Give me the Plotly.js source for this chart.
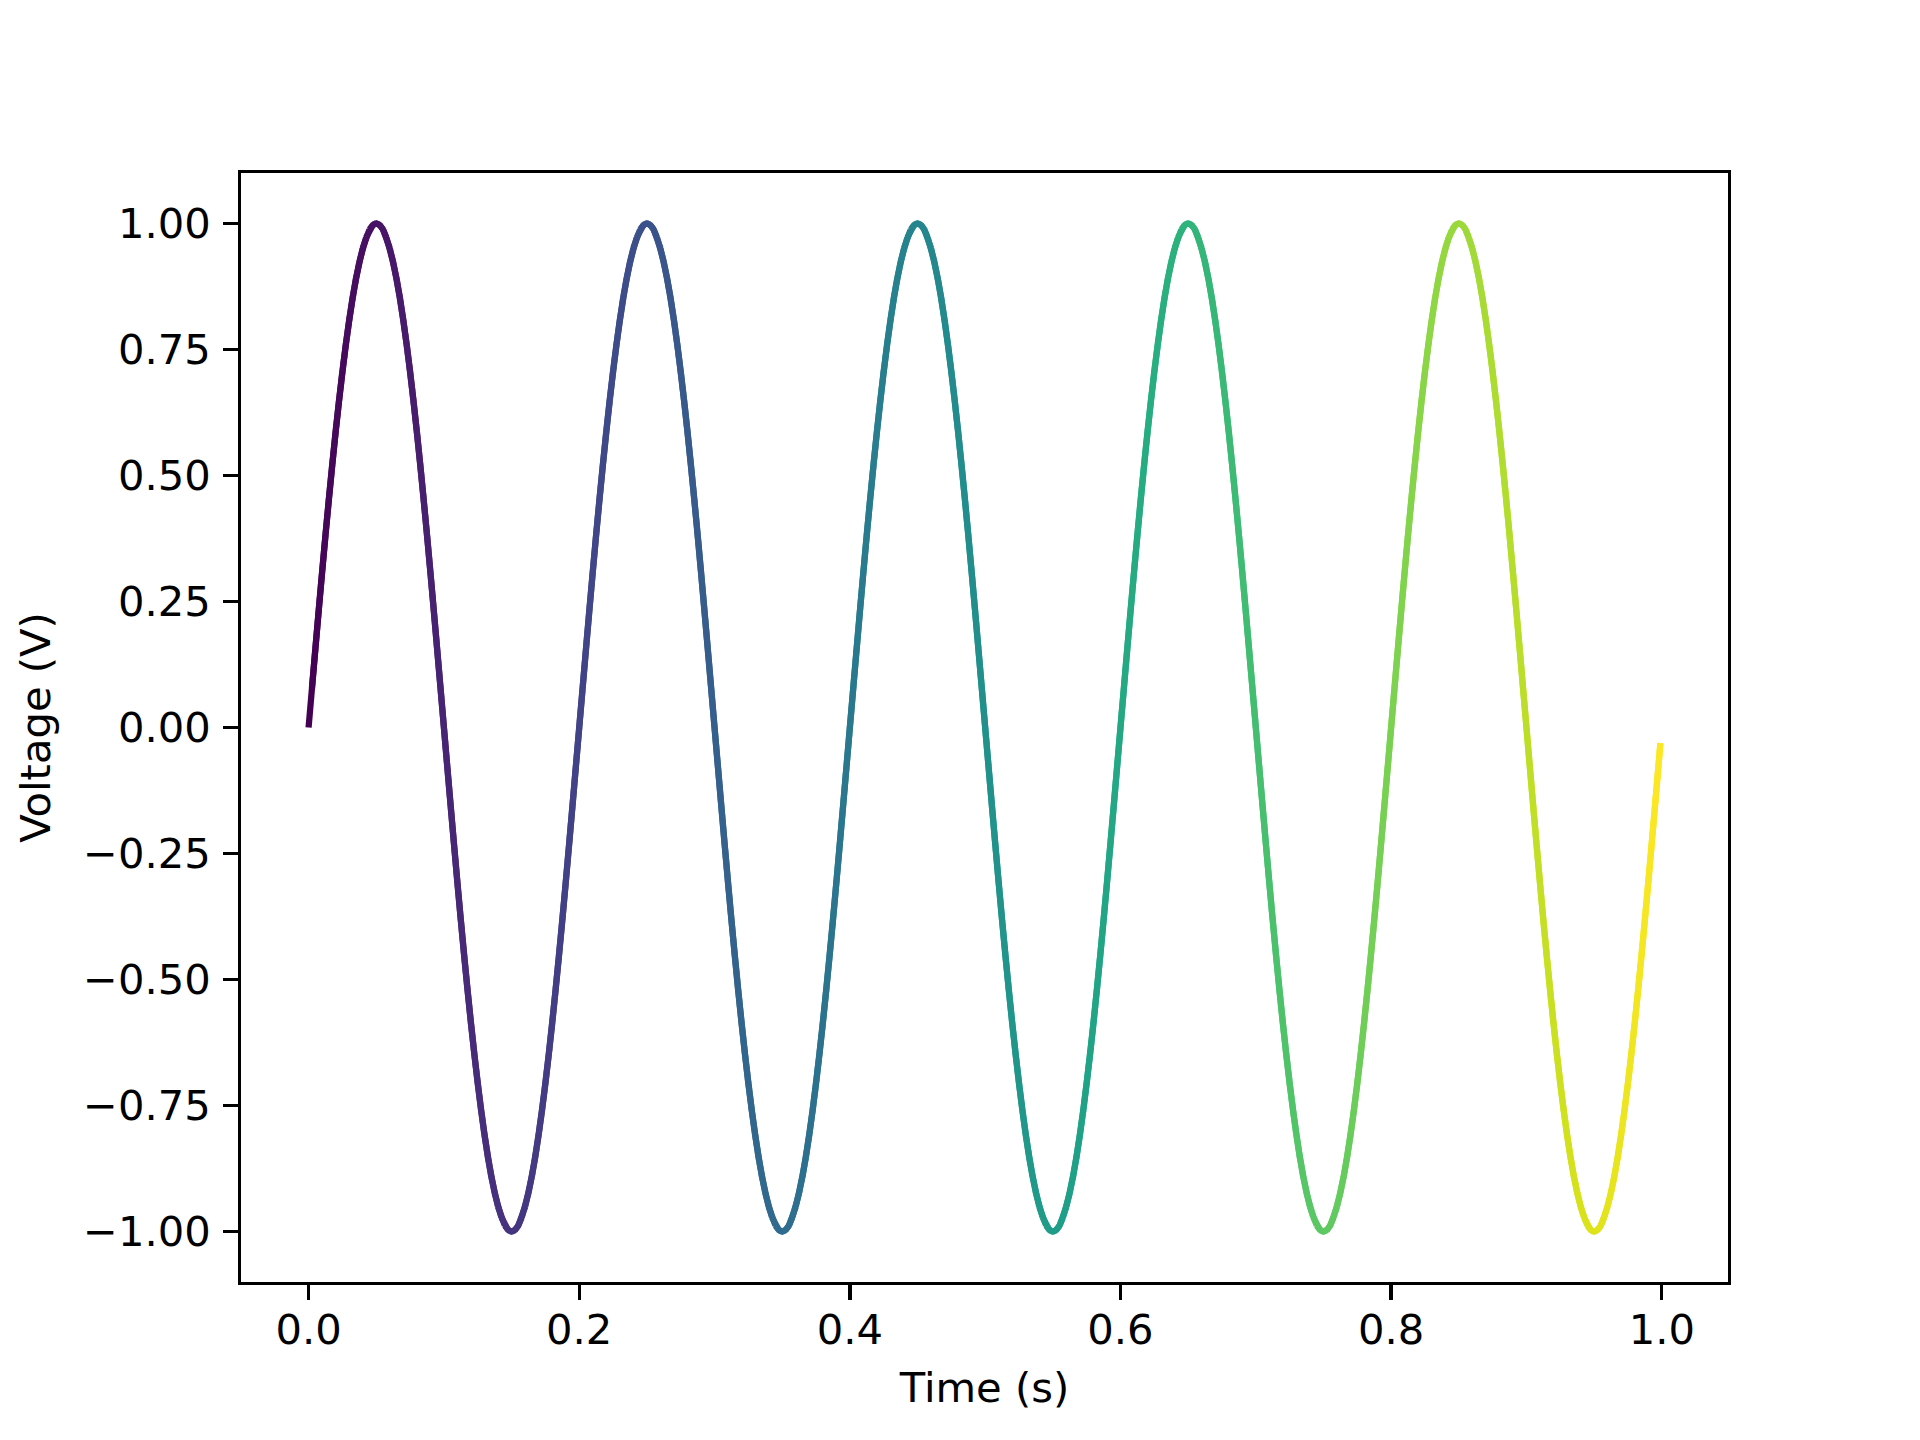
<!DOCTYPE html>
<html>
<head>
<meta charset="utf-8">
<script src="https://cdn.plot.ly/plotly-3.0.1.min.js"></script>
<style>
  html, body { margin: 0; padding: 0; background: #ffffff; }
  #chart { width: 1920px; height: 1440px; }
</style>
</head>
<body>
<div id="chart"></div>
<script>
// Sampled times (s), read along the horizontal axis
const timeSeconds = [
  0.0000, 0.0025, 0.0050, 0.0075, 0.0100, 0.0125, 0.0150, 0.0175, 0.0200, 0.0225, 0.0250, 0.0275, 0.0300, 0.0325, 0.0350, 0.0375, 0.0400, 0.0425, 0.0450, 0.0475,
  0.0500, 0.0525, 0.0550, 0.0575, 0.0600, 0.0625, 0.0650, 0.0675, 0.0700, 0.0725, 0.0750, 0.0775, 0.0800, 0.0825, 0.0850, 0.0875, 0.0900, 0.0925, 0.0950, 0.0975,
  0.1000, 0.1025, 0.1050, 0.1075, 0.1100, 0.1125, 0.1150, 0.1175, 0.1200, 0.1225, 0.1250, 0.1275, 0.1300, 0.1325, 0.1350, 0.1375, 0.1400, 0.1425, 0.1450, 0.1475,
  0.1500, 0.1525, 0.1550, 0.1575, 0.1600, 0.1625, 0.1650, 0.1675, 0.1700, 0.1725, 0.1750, 0.1775, 0.1800, 0.1825, 0.1850, 0.1875, 0.1900, 0.1925, 0.1950, 0.1975,
  0.2000, 0.2025, 0.2050, 0.2075, 0.2100, 0.2125, 0.2150, 0.2175, 0.2200, 0.2225, 0.2250, 0.2275, 0.2300, 0.2325, 0.2350, 0.2375, 0.2400, 0.2425, 0.2450, 0.2475,
  0.2500, 0.2525, 0.2550, 0.2575, 0.2600, 0.2625, 0.2650, 0.2675, 0.2700, 0.2725, 0.2750, 0.2775, 0.2800, 0.2825, 0.2850, 0.2875, 0.2900, 0.2925, 0.2950, 0.2975,
  0.3000, 0.3025, 0.3050, 0.3075, 0.3100, 0.3125, 0.3150, 0.3175, 0.3200, 0.3225, 0.3250, 0.3275, 0.3300, 0.3325, 0.3350, 0.3375, 0.3400, 0.3425, 0.3450, 0.3475,
  0.3500, 0.3525, 0.3550, 0.3575, 0.3600, 0.3625, 0.3650, 0.3675, 0.3700, 0.3725, 0.3750, 0.3775, 0.3800, 0.3825, 0.3850, 0.3875, 0.3900, 0.3925, 0.3950, 0.3975,
  0.4000, 0.4025, 0.4050, 0.4075, 0.4100, 0.4125, 0.4150, 0.4175, 0.4200, 0.4225, 0.4250, 0.4275, 0.4300, 0.4325, 0.4350, 0.4375, 0.4400, 0.4425, 0.4450, 0.4475,
  0.4500, 0.4525, 0.4550, 0.4575, 0.4600, 0.4625, 0.4650, 0.4675, 0.4700, 0.4725, 0.4750, 0.4775, 0.4800, 0.4825, 0.4850, 0.4875, 0.4900, 0.4925, 0.4950, 0.4975,
  0.5000, 0.5025, 0.5050, 0.5075, 0.5100, 0.5125, 0.5150, 0.5175, 0.5200, 0.5225, 0.5250, 0.5275, 0.5300, 0.5325, 0.5350, 0.5375, 0.5400, 0.5425, 0.5450, 0.5475,
  0.5500, 0.5525, 0.5550, 0.5575, 0.5600, 0.5625, 0.5650, 0.5675, 0.5700, 0.5725, 0.5750, 0.5775, 0.5800, 0.5825, 0.5850, 0.5875, 0.5900, 0.5925, 0.5950, 0.5975,
  0.6000, 0.6025, 0.6050, 0.6075, 0.6100, 0.6125, 0.6150, 0.6175, 0.6200, 0.6225, 0.6250, 0.6275, 0.6300, 0.6325, 0.6350, 0.6375, 0.6400, 0.6425, 0.6450, 0.6475,
  0.6500, 0.6525, 0.6550, 0.6575, 0.6600, 0.6625, 0.6650, 0.6675, 0.6700, 0.6725, 0.6750, 0.6775, 0.6800, 0.6825, 0.6850, 0.6875, 0.6900, 0.6925, 0.6950, 0.6975,
  0.7000, 0.7025, 0.7050, 0.7075, 0.7100, 0.7125, 0.7150, 0.7175, 0.7200, 0.7225, 0.7250, 0.7275, 0.7300, 0.7325, 0.7350, 0.7375, 0.7400, 0.7425, 0.7450, 0.7475,
  0.7500, 0.7525, 0.7550, 0.7575, 0.7600, 0.7625, 0.7650, 0.7675, 0.7700, 0.7725, 0.7750, 0.7775, 0.7800, 0.7825, 0.7850, 0.7875, 0.7900, 0.7925, 0.7950, 0.7975,
  0.8000, 0.8025, 0.8050, 0.8075, 0.8100, 0.8125, 0.8150, 0.8175, 0.8200, 0.8225, 0.8250, 0.8275, 0.8300, 0.8325, 0.8350, 0.8375, 0.8400, 0.8425, 0.8450, 0.8475,
  0.8500, 0.8525, 0.8550, 0.8575, 0.8600, 0.8625, 0.8650, 0.8675, 0.8700, 0.8725, 0.8750, 0.8775, 0.8800, 0.8825, 0.8850, 0.8875, 0.8900, 0.8925, 0.8950, 0.8975,
  0.9000, 0.9025, 0.9050, 0.9075, 0.9100, 0.9125, 0.9150, 0.9175, 0.9200, 0.9225, 0.9250, 0.9275, 0.9300, 0.9325, 0.9350, 0.9375, 0.9400, 0.9425, 0.9450, 0.9475,
  0.9500, 0.9525, 0.9550, 0.9575, 0.9600, 0.9625, 0.9650, 0.9675, 0.9700, 0.9725, 0.9750, 0.9775, 0.9800, 0.9825, 0.9850, 0.9875, 0.9900, 0.9925, 0.9950, 0.9975,
  0.9990
];

// Voltage (V) read at each sampled time
const voltageVolts = [
  0.000, 0.078, 0.156, 0.233, 0.309, 0.383, 0.454, 0.522, 0.588, 0.649, 0.707, 0.760, 0.809, 0.853, 0.891, 0.924, 0.951, 0.972, 0.988, 0.997,
  1.000, 0.997, 0.988, 0.972, 0.951, 0.924, 0.891, 0.853, 0.809, 0.760, 0.707, 0.649, 0.588, 0.522, 0.454, 0.383, 0.309, 0.233, 0.156, 0.078,
  0.000, -0.078, -0.156, -0.233, -0.309, -0.383, -0.454, -0.522, -0.588, -0.649, -0.707, -0.760, -0.809, -0.853, -0.891, -0.924, -0.951, -0.972, -0.988, -0.997,
  -1.000, -0.997, -0.988, -0.972, -0.951, -0.924, -0.891, -0.853, -0.809, -0.760, -0.707, -0.649, -0.588, -0.522, -0.454, -0.383, -0.309, -0.233, -0.156, -0.078,
  0.000, 0.078, 0.156, 0.233, 0.309, 0.383, 0.454, 0.522, 0.588, 0.649, 0.707, 0.760, 0.809, 0.853, 0.891, 0.924, 0.951, 0.972, 0.988, 0.997,
  1.000, 0.997, 0.988, 0.972, 0.951, 0.924, 0.891, 0.853, 0.809, 0.760, 0.707, 0.649, 0.588, 0.522, 0.454, 0.383, 0.309, 0.233, 0.156, 0.078,
  0.000, -0.078, -0.156, -0.233, -0.309, -0.383, -0.454, -0.522, -0.588, -0.649, -0.707, -0.760, -0.809, -0.853, -0.891, -0.924, -0.951, -0.972, -0.988, -0.997,
  -1.000, -0.997, -0.988, -0.972, -0.951, -0.924, -0.891, -0.853, -0.809, -0.760, -0.707, -0.649, -0.588, -0.522, -0.454, -0.383, -0.309, -0.233, -0.156, -0.078,
  0.000, 0.078, 0.156, 0.233, 0.309, 0.383, 0.454, 0.522, 0.588, 0.649, 0.707, 0.760, 0.809, 0.853, 0.891, 0.924, 0.951, 0.972, 0.988, 0.997,
  1.000, 0.997, 0.988, 0.972, 0.951, 0.924, 0.891, 0.853, 0.809, 0.760, 0.707, 0.649, 0.588, 0.522, 0.454, 0.383, 0.309, 0.233, 0.156, 0.078,
  0.000, -0.078, -0.156, -0.233, -0.309, -0.383, -0.454, -0.522, -0.588, -0.649, -0.707, -0.760, -0.809, -0.853, -0.891, -0.924, -0.951, -0.972, -0.988, -0.997,
  -1.000, -0.997, -0.988, -0.972, -0.951, -0.924, -0.891, -0.853, -0.809, -0.760, -0.707, -0.649, -0.588, -0.522, -0.454, -0.383, -0.309, -0.233, -0.156, -0.078,
  0.000, 0.078, 0.156, 0.233, 0.309, 0.383, 0.454, 0.522, 0.588, 0.649, 0.707, 0.760, 0.809, 0.853, 0.891, 0.924, 0.951, 0.972, 0.988, 0.997,
  1.000, 0.997, 0.988, 0.972, 0.951, 0.924, 0.891, 0.853, 0.809, 0.760, 0.707, 0.649, 0.588, 0.522, 0.454, 0.383, 0.309, 0.233, 0.156, 0.078,
  0.000, -0.078, -0.156, -0.233, -0.309, -0.383, -0.454, -0.522, -0.588, -0.649, -0.707, -0.760, -0.809, -0.853, -0.891, -0.924, -0.951, -0.972, -0.988, -0.997,
  -1.000, -0.997, -0.988, -0.972, -0.951, -0.924, -0.891, -0.853, -0.809, -0.760, -0.707, -0.649, -0.588, -0.522, -0.454, -0.383, -0.309, -0.233, -0.156, -0.078,
  0.000, 0.078, 0.156, 0.233, 0.309, 0.383, 0.454, 0.522, 0.588, 0.649, 0.707, 0.760, 0.809, 0.853, 0.891, 0.924, 0.951, 0.972, 0.988, 0.997,
  1.000, 0.997, 0.988, 0.972, 0.951, 0.924, 0.891, 0.853, 0.809, 0.760, 0.707, 0.649, 0.588, 0.522, 0.454, 0.383, 0.309, 0.233, 0.156, 0.078,
  0.000, -0.078, -0.156, -0.233, -0.309, -0.383, -0.454, -0.522, -0.588, -0.649, -0.707, -0.760, -0.809, -0.853, -0.891, -0.924, -0.951, -0.972, -0.988, -0.997,
  -1.000, -0.997, -0.988, -0.972, -0.951, -0.924, -0.891, -0.853, -0.809, -0.760, -0.707, -0.649, -0.588, -0.522, -0.454, -0.383, -0.309, -0.233, -0.156, -0.078,
  -0.031
];

// Tick positions and labels
const xTickValues = [0.0, 0.2, 0.4, 0.6, 0.8, 1.0];
const xTickLabels = ["0.0", "0.2", "0.4", "0.6", "0.8", "1.0"];
const yTickValues = [-1.0, -0.75, -0.5, -0.25, 0.0, 0.25, 0.5, 0.75, 1.0];
const yTickLabels = ["\u22121.00", "\u22120.75", "\u22120.50", "\u22120.25", "0.00", "0.25", "0.50", "0.75", "1.00"];

const xAxisTitle = "Time (s)";
const yAxisTitle = "Voltage (V)";

// Viridis colour map stops (style)
const viridisStops = [
  [0.0000, "#440154"], [0.0627, "#48186a"], [0.1255, "#472d7b"], [0.1882, "#424086"],
  [0.2510, "#3b528b"], [0.3137, "#33638d"], [0.3765, "#2c728e"], [0.4392, "#26828e"],
  [0.5020, "#21918c"], [0.5647, "#1fa088"], [0.6275, "#28ae80"], [0.6902, "#3fbc73"],
  [0.7529, "#5ec962"], [0.8157, "#84d44b"], [0.8784, "#addc30"], [0.9412, "#d8e219"],
  [1.0000, "#fde725"]
];

function hexToRgb(h) {
  return [parseInt(h.slice(1, 3), 16), parseInt(h.slice(3, 5), 16), parseInt(h.slice(5, 7), 16)];
}
function viridis(f) {
  f = Math.max(0, Math.min(1, f));
  for (let k = 0; k < viridisStops.length - 1; k++) {
    const [a, ca] = viridisStops[k];
    const [b, cb] = viridisStops[k + 1];
    if (f <= b) {
      const u = (f - a) / (b - a);
      const A = hexToRgb(ca), B = hexToRgb(cb);
      const c = A.map((v, j) => Math.round(v + (B[j] - v) * u));
      return "rgb(" + c.join(",") + ")";
    }
  }
  return viridisStops[viridisStops.length - 1][1];
}

// One trace per segment so the line can change colour along time.
// Each segment also reaches one sample further so the joins have no gaps;
// the next segment is drawn on top with its own colour.
const traces = [];
const nSeg = timeSeconds.length - 1;
for (let i = 0; i < nSeg; i++) {
  const end = Math.min(i + 2, timeSeconds.length - 1);
  traces.push({
    type: "scatter",
    mode: "lines",
    x: timeSeconds.slice(i, end + 1),
    y: voltageVolts.slice(i, end + 1),
    line: { color: viridis(i / (nSeg - 1)), width: 6.25 },
    showlegend: false,
    hoverinfo: "skip"
  });
}

const font = { family: "DejaVu Sans, sans-serif", size: 41.67, color: "#000000" };

const layout = {
  width: 1920,
  height: 1440,
  paper_bgcolor: "#ffffff",
  plot_bgcolor: "#ffffff",
  margin: { l: 241, r: 192, t: 172.8, b: 158.4, pad: 0 },
  font: font,
  showlegend: false,
  hovermode: false,
  xaxis: {
    range: [-0.04995, 1.04895],
    tickmode: "array",
    tickvals: xTickValues,
    ticktext: xTickLabels,
    ticks: "outside",
    ticklen: 14.58,
    tickwidth: 3.33,
    tickcolor: "#000000",
    ticklabelstandoff: -6,
    showline: true,
    linecolor: "#000000",
    linewidth: 3.33,
    mirror: true,
    showgrid: false,
    zeroline: false,
    tickfont: font,
    title: { text: xAxisTitle, font: font, standoff: 21 },
    automargin: false
  },
  yaxis: {
    range: [-1.1, 1.1],
    tickmode: "array",
    tickvals: yTickValues,
    ticktext: yTickLabels,
    ticks: "outside",
    ticklen: 14.58,
    tickwidth: 3.33,
    tickcolor: "#000000",
    ticklabelstandoff: 4,
    showline: true,
    linecolor: "#000000",
    linewidth: 3.33,
    mirror: true,
    showgrid: false,
    zeroline: false,
    tickfont: font,
    title: { text: yAxisTitle, font: font, standoff: 20 },
    automargin: false
  }
};

Plotly.newPlot("chart", traces, layout, { staticPlot: true, displayModeBar: false });
</script>
</body>
</html>
